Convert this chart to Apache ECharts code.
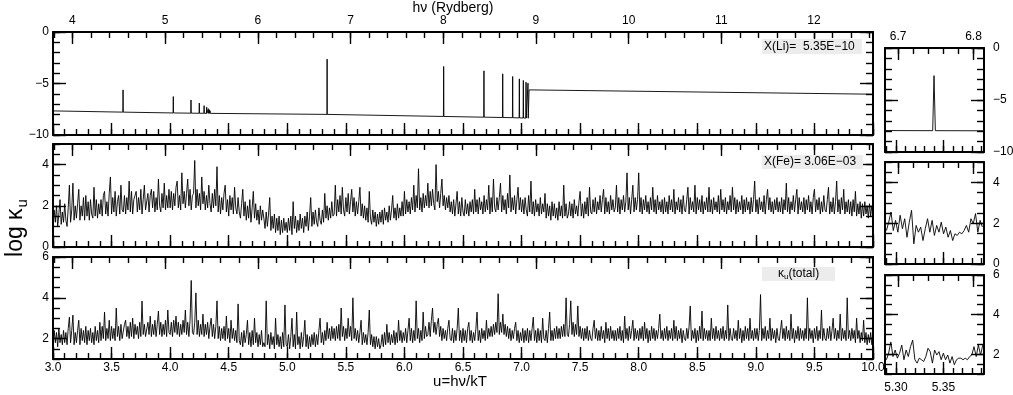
<!DOCTYPE html>
<html>
<head>
<meta charset="utf-8">
<script src="https://cdn.jsdelivr.net/npm/echarts@6/dist/echarts.min.js"></script>
<style>
html,body{margin:0;padding:0;background:#fff;}
#chart{width:1013px;height:395px;}
</style>
</head>
<body>
<div id="chart"></div>
<script>
// ---------------- DATA ----------------
const HV_PER_U = 1.2636;          // hν(Rydberg) = HV_PER_U * u
const U_START = 3.0, U_STEP = 0.01;

// Li opacity (log κ_u) : explicit [u] / [log κ] pairs (baseline + line spikes + edge)
const liU = [3.000,
  3.596,3.598,3.600, 4.025,4.027,4.029, 4.176,4.178,4.180, 4.247,4.249,4.251,
  4.288,4.290,4.292, 4.310,4.312,4.314, 4.324,4.326,4.328, 4.333,4.335,4.337,
  4.340,4.341,4.343, 4.345,4.346,4.348,
  5.339,5.340,5.341, 6.333,6.335,6.337, 6.677,6.679,6.681, 6.837,6.839,6.841,
  6.922,6.924,6.926, 6.979,6.981,6.983, 7.013,7.015,7.017, 7.036,7.038,7.040,
  7.053,7.055,7.057, 7.062,7.064, 10.000];
const liK = [-7.66,
  -7.78,-5.62,-7.78, -7.86,-6.27,-7.86, -7.88,-6.60,-7.88, -7.89,-6.90,-7.89,
  -7.89,-7.15,-7.89, -7.90,-7.30,-7.90, -7.90,-7.45,-7.90, -7.90,-7.55,-7.90,
  -7.90,-7.65,-7.90, -7.90,-7.75,-7.90,
  -8.00,-2.63,-8.00, -8.20,-3.35,-8.20, -8.27,-3.77,-8.27, -8.30,-4.06,-8.30,
  -8.32,-4.32,-8.32, -8.34,-4.55,-8.34, -8.35,-4.70,-8.35, -8.36,-4.87,-8.36,
  -8.37,-4.97,-8.37, -8.37,-5.62, -6.04];

// Fe opacity, u = 3.00 .. 10.00 step 0.01 (one row = 0.2 in u)
const feVals = [
 1.1,1.8,1.2,2.0,1.0,1.6,2.3,1.1,1.7,1.2,2.1,1.3,1.0,1.9,3.0,1.2,1.8,3.1,1.3,2.0,
 1.4,2.1,2.8,1.3,2.0,1.5,2.4,1.3,2.5,1.5,2.2,1.3,2.3,1.6,1.4,2.9,1.5,2.3,1.4,2.1,
 1.6,2.3,1.5,2.5,2.7,1.6,2.2,1.5,2.6,3.4,1.6,2.4,1.7,2.7,1.5,2.2,2.5,1.6,3.0,1.8,
 1.7,2.5,1.6,2.4,1.8,3.2,1.7,2.7,1.6,2.3,2.5,2.7,1.7,2.4,1.8,2.8,1.6,2.3,3.0,1.8,
 1.8,2.6,1.7,2.5,2.8,1.9,2.7,1.7,2.4,1.8,3.3,2.0,1.7,2.6,1.9,3.1,1.8,2.5,1.9,2.8,
 1.9,2.7,1.8,2.6,2.0,2.9,3.2,1.9,2.5,1.8,3.6,2.1,2.7,1.9,2.6,3.3,2.0,2.8,1.8,2.5,
 2.6,4.2,1.9,2.8,2.0,2.6,1.8,3.4,2.1,2.7,1.8,2.5,1.9,3.0,2.1,1.7,2.6,1.9,2.8,2.0,
 3.9,1.7,2.5,1.6,2.4,1.8,2.6,3.0,1.7,2.3,1.5,2.5,1.8,2.4,1.6,2.9,1.9,1.6,2.4,1.7,
 1.4,2.1,2.8,1.5,2.2,1.3,2.0,1.4,2.3,1.2,1.9,2.7,1.4,2.1,1.3,1.8,1.1,2.0,1.3,1.8,
 1.4,0.9,1.7,1.0,1.6,2.4,0.8,1.5,0.9,1.6,0.7,1.4,0.8,1.5,0.6,1.3,0.7,1.4,0.8,1.2,
 0.7,1.4,0.8,1.5,0.6,2.2,0.9,1.5,0.7,1.3,0.8,1.6,0.9,1.4,0.7,1.5,1.0,1.7,0.8,1.5,
 2.4,1.0,1.7,1.1,1.8,1.2,1.0,1.9,1.3,1.1,1.8,1.2,2.6,1.4,2.0,1.3,1.9,1.4,2.2,1.5,
 1.6,3.0,1.5,2.3,1.7,2.5,1.6,2.9,1.8,1.5,2.4,1.7,2.6,1.6,2.2,2.8,1.7,2.4,1.5,2.2,
 1.6,2.2,2.9,1.5,2.1,1.4,2.0,1.3,1.9,1.2,2.7,1.4,1.1,1.8,1.2,1.7,1.0,1.6,1.1,1.7,
 1.2,1.8,1.1,1.9,1.3,1.7,1.2,2.0,1.3,1.8,2.5,1.4,1.9,1.3,2.1,1.4,1.9,1.5,2.2,1.5,
 2.7,1.6,2.3,1.7,2.2,1.6,2.4,1.8,3.0,1.7,2.5,1.9,3.8,1.8,2.4,1.7,2.6,1.9,2.5,2.0,
 3.1,1.9,2.7,2.0,2.8,2.1,1.8,4.0,2.2,2.7,1.9,2.6,3.3,2.0,2.5,1.8,2.4,1.9,2.5,1.7,
 2.2,1.6,2.3,1.5,2.1,2.7,1.6,2.2,1.5,2.4,1.7,1.5,2.3,1.6,2.1,1.5,2.2,1.7,2.3,1.6,
 2.8,1.7,2.3,1.6,2.4,1.8,2.2,1.6,2.5,1.7,2.3,1.8,3.0,1.6,2.4,1.7,3.3,1.9,1.7,2.4,
 1.8,2.4,3.1,1.7,2.5,1.8,2.3,1.6,2.6,1.9,3.5,1.7,2.4,1.8,2.5,1.6,2.3,2.9,1.8,2.4,
 1.7,2.3,1.6,2.4,1.8,1.5,2.5,1.7,3.2,1.6,2.2,1.5,2.3,1.7,2.1,1.5,2.4,1.6,2.1,1.7,
 2.6,1.4,2.1,1.5,2.0,1.3,2.2,1.5,2.1,1.4,1.9,1.3,2.2,1.5,2.0,1.4,3.0,1.5,2.1,1.4,
 1.6,2.2,1.5,2.1,1.4,2.3,1.6,2.0,1.5,2.2,2.7,1.5,2.1,1.4,2.2,1.6,2.4,1.5,2.9,1.7,
 1.6,2.3,1.7,2.4,1.6,2.2,1.8,2.5,1.7,2.3,2.8,1.6,2.4,1.7,2.2,1.6,2.5,1.8,2.3,1.7,
 1.9,3.0,1.7,2.4,1.6,2.3,1.8,2.5,1.7,2.2,3.6,1.8,2.4,1.6,2.3,3.0,1.7,2.4,1.8,2.3,
 3.6,1.7,2.4,1.6,2.3,1.8,2.5,1.7,2.2,1.6,2.4,1.8,2.9,1.7,2.3,1.6,2.5,1.8,2.2,1.7,
 2.3,1.6,2.4,1.7,2.2,1.6,2.5,1.8,2.3,1.7,2.8,1.6,2.2,1.8,2.4,1.7,2.3,1.6,2.5,1.8,
 1.7,2.3,2.9,1.6,2.4,1.8,2.2,1.7,3.0,1.6,2.4,1.8,2.3,1.7,2.5,1.6,2.2,1.8,2.4,1.7,
 2.9,1.7,2.3,1.6,2.4,1.8,2.2,1.7,2.5,1.6,2.8,1.8,2.3,1.7,2.4,1.6,2.2,1.8,2.5,1.7,
 2.9,1.8,2.4,1.6,2.3,1.7,2.2,1.8,2.5,1.6,2.3,1.7,2.4,1.8,2.2,1.6,2.4,1.7,2.3,3.2,
 1.7,2.3,1.6,2.4,1.8,2.2,1.7,2.5,1.6,2.3,2.8,1.8,2.4,1.7,2.2,1.6,2.3,1.8,2.4,1.7,
 2.2,1.7,2.4,1.6,2.3,1.8,3.1,1.7,2.4,1.6,2.2,1.8,2.5,1.7,2.3,2.8,1.6,2.4,1.8,2.2,
 1.7,2.4,1.6,2.3,1.8,2.5,1.7,2.2,1.6,2.4,2.8,1.7,2.3,1.8,2.4,1.6,2.2,1.7,2.5,1.8,
 1.7,2.3,2.9,1.6,2.2,1.7,2.4,1.6,2.2,3.2,1.7,2.3,1.6,2.4,1.8,2.8,1.6,2.2,1.7,2.3,
 1.6,2.2,1.5,2.3,1.7,2.7,1.5,2.1,1.6,2.2,1.4,2.1,1.5,2.2,1.6,2.0,1.4,2.1,1.5,2.0,
 1.6];

// total opacity, u = 3.00 .. 10.00 step 0.01 (one row = 0.2 in u)
const totVals = [
 1.7,2.4,1.8,2.3,1.6,2.5,1.8,2.2,1.7,2.4,1.8,2.3,1.7,2.5,3.05,1.8,2.4,3.15,1.7,2.3,
 1.8,2.4,2.9,1.7,2.5,1.9,2.4,1.8,2.6,1.7,2.4,1.9,2.5,1.8,2.3,1.7,2.6,1.9,2.4,1.8,
 2.8,1.9,2.6,2.0,3.3,1.9,2.5,2.0,2.9,1.9,2.6,2.0,2.5,1.9,3.5,2.1,2.6,1.9,2.7,2.0,
 2.0,2.7,2.9,2.1,2.6,2.0,2.8,2.1,3.0,2.0,2.7,2.2,2.6,2.0,2.8,2.1,3.84,2.2,2.7,2.1,
 2.1,2.8,2.2,3.1,2.1,2.7,2.2,2.9,2.1,2.7,3.35,2.2,2.8,2.1,2.7,2.2,2.9,2.1,3.4,2.3,
 2.2,2.8,2.1,2.9,2.3,3.1,2.2,2.8,2.1,2.7,2.2,2.9,2.3,3.4,2.2,2.8,2.1,2.9,4.85,2.3,
 2.2,2.8,4.24,2.2,2.9,2.1,2.7,2.2,3.2,2.1,2.7,2.2,2.8,2.0,2.6,3.0,2.1,2.7,2.0,2.6,
 3.85,2.0,2.6,1.9,2.5,2.0,2.6,1.9,3.1,2.0,2.5,1.8,2.9,2.0,2.5,1.9,2.4,1.8,3.7,1.9,
 1.7,2.3,1.6,2.4,1.8,2.2,2.9,1.7,2.3,1.6,2.4,1.7,3.0,1.8,2.3,1.6,2.2,1.7,2.4,1.6,
 1.8,1.6,3.85,1.7,2.2,1.5,2.3,1.7,2.1,1.5,3.0,1.7,2.2,1.6,2.1,1.5,2.3,1.6,3.65,1.7,
 1.6,2.2,1.5,2.1,3.0,1.6,2.2,1.5,3.3,1.7,2.1,1.5,2.3,1.6,2.1,2.9,1.6,2.2,1.5,2.1,
 1.6,2.2,1.7,2.3,1.6,2.2,1.7,2.4,3.0,1.8,2.3,1.7,2.4,1.9,2.8,2.0,2.5,1.9,2.6,2.0,
 2.5,1.9,2.6,2.0,2.7,1.9,3.5,2.1,2.6,1.9,2.5,2.0,3.0,2.1,2.6,1.9,4.0,2.0,2.5,1.9,
 2.4,1.8,2.3,2.9,1.7,2.3,1.8,2.2,1.7,2.3,3.4,1.7,2.2,1.6,2.1,1.5,2.1,1.6,2.0,1.5,
 1.7,2.2,1.6,2.3,1.7,2.7,1.8,2.3,1.7,2.2,1.8,2.4,1.7,2.3,1.8,2.9,1.9,2.4,1.8,2.3,
 1.9,2.5,1.8,2.4,3.0,1.9,2.5,1.8,2.4,1.9,3.85,2.0,2.5,1.8,2.4,1.9,3.3,2.0,2.6,2.1,
 2.2,2.8,2.1,2.9,3.5,2.3,2.8,2.2,2.7,3.0,2.1,2.6,1.9,2.5,2.0,2.4,1.9,2.5,2.9,2.0,
 1.9,2.5,1.8,2.4,1.9,2.5,3.5,1.9,2.4,1.8,2.5,1.9,2.4,1.8,2.5,2.8,1.9,2.4,1.8,2.3,
 1.9,2.5,3.3,1.9,2.4,1.8,2.5,2.0,2.4,1.9,2.9,2.0,2.5,2.1,2.6,2.1,2.7,2.2,2.8,2.3,
 4.2,2.2,2.8,2.3,3.2,2.2,2.7,2.1,2.6,2.0,2.5,1.9,2.4,2.0,2.5,2.8,1.9,2.4,1.8,2.3,
 1.9,2.5,1.8,2.4,1.9,2.5,1.8,2.4,1.9,2.5,3.05,1.9,2.4,1.8,2.5,1.9,2.4,1.8,3.0,2.0,
 1.9,2.4,1.8,2.5,3.3,1.9,2.4,1.9,2.5,2.0,2.6,2.0,2.5,2.0,2.6,2.1,2.7,2.1,4.0,2.2,
 2.1,2.7,3.85,2.2,2.8,2.1,2.7,2.2,3.6,2.1,2.6,2.0,2.5,1.9,2.5,2.0,2.6,1.9,2.4,2.0,
 1.9,2.5,2.9,2.0,2.5,1.9,2.4,1.9,2.6,2.0,2.4,1.8,2.8,2.0,2.5,1.9,2.6,2.0,2.4,1.9,
 2.4,1.9,2.5,2.0,2.6,1.9,2.4,1.8,3.1,2.0,2.5,1.9,2.6,2.0,2.4,2.9,1.9,2.5,2.0,2.4,
 1.9,2.5,2.0,2.6,1.9,2.8,2.0,2.5,1.8,2.4,1.9,2.6,2.0,2.5,1.9,2.4,2.0,2.5,3.2,2.0,
 2.4,1.9,2.5,2.0,2.6,1.9,2.4,2.0,2.5,1.9,2.9,2.0,2.6,1.9,2.4,2.0,2.5,1.8,2.4,2.0,
 1.9,2.5,2.0,2.6,3.6,1.9,2.4,2.0,2.5,1.8,2.4,1.9,2.6,2.0,3.35,1.9,2.5,2.0,2.4,1.9,
 2.4,1.9,3.0,2.0,2.5,1.9,2.6,2.0,2.4,1.9,2.5,2.0,2.6,1.9,2.4,2.0,3.65,1.9,2.5,2.0,
 1.9,2.5,2.0,2.4,1.9,2.9,2.0,2.5,1.8,2.4,1.9,2.6,2.0,2.5,1.9,3.0,2.0,2.4,1.9,2.5,
 2.0,2.5,1.9,2.4,4.16,1.9,2.5,2.0,2.6,1.9,2.4,2.0,3.0,1.9,2.5,2.0,2.4,1.8,2.5,2.0,
 1.9,2.4,2.9,2.0,2.5,1.9,2.6,2.0,2.4,1.9,3.2,2.0,2.5,1.8,2.4,2.0,2.6,1.9,2.5,2.0,
 2.4,1.9,2.5,2.0,4.0,1.9,2.5,2.0,2.4,1.8,2.5,2.0,2.6,1.9,2.4,2.0,3.4,1.9,2.5,2.0,
 1.9,2.5,2.0,2.6,1.9,2.4,3.0,2.0,2.5,1.9,2.4,2.0,3.2,1.9,2.5,2.0,2.4,1.9,4.0,2.0,
 2.4,1.9,2.5,2.0,2.4,1.8,3.0,2.0,2.4,1.8,2.3,1.9,2.9,1.8,2.3,1.7,2.2,1.8,2.3,1.7,
 1.9];

// insets (zoom around u = 5.29 .. 5.39)
const INSET_U0 = 5.29;
const insetLiU = [5.2885, 5.3386, 5.3400, 5.3414, 5.3925];
const insetLiK = [-7.94, -7.95, -2.66, -7.95, -7.96];
const INSET_FE_STEP = 0.0024;
const insetFeVals = [1.64,2.05,2.55,1.64,2.14,1.56,2.39,1.73,2.22,1.31,2.05,2.63,0.99,1.89,1.56,1.81,1.15,1.73,2.22,1.56,2.14,1.40,1.89,1.56,2.05,1.48,1.81,1.31,1.64,1.15,1.48,1.40,1.56,1.48,1.64,1.89,1.56,2.22,1.97,2.47,1.56,2.14,1.81];
const INSET_TOT_STEP = 0.0023;
const insetTotVals = [1.72,2.05,2.62,1.88,2.21,1.80,2.05,2.46,1.72,2.21,1.88,2.38,2.71,1.72,1.55,1.80,1.72,1.63,1.88,2.30,2.13,1.55,2.21,1.96,2.13,1.72,2.05,1.72,1.96,1.55,1.88,1.47,1.72,1.80,1.80,1.72,1.80,1.72,1.88,1.96,2.38,1.88,2.46,1.96,2.46];

// tick labels
const uTickLabels = [3.0,3.5,4.0,4.5,5.0,5.5,6.0,6.5,7.0,7.5,8.0,8.5,9.0,9.5,10.0];
const hvTickLabels = [4,5,6,7,8,9,10,11,12];
const insetUTickLabels = [5.30,5.35];
const insetHvTickLabels = [6.7,6.8];
const liYTicks = [-10,-5,0];
const feYTicks = [0,2,4];
const totYTicks = [2,4,6];
const liYMajorTicks = [-5];
const annLi = 'X(Li)=  5.35E\u221210';
const annFe = 'X(Fe)= 3.06E\u221203';

// ---------------- BUILD ----------------
const FONT = 'Liberation Sans, Arial, Helvetica, sans-serif';
function range(a, b, s) { const out = []; const n = Math.round((b - a) / s); for (let i = 0; i <= n; i++) out.push(+(a + i * s).toFixed(6)); return out; }
function minus(s) { return String(s).replace('-', '\u2212'); }

const grids = [
  {left: 53, top: 32, width: 820, height: 103},
  {left: 53, top: 144, width: 820, height: 103},
  {left: 53, top: 257, width: 820, height: 102},
  {left: 885, top: 48, width: 99, height: 104},
  {left: 885, top: 162, width: 99, height: 102},
  {left: 885, top: 275, width: 99, height: 99}
].map(g => Object.assign({outerBoundsMode: 'none', containLabel: false}, g));

const xAxes = [], yAxes = [];
function mkAxis(gi, pos, min, max, ticks, len, lineShow, labels, fmt, margin) {
  return {
    type: 'value', gridIndex: gi, position: pos, min: min, max: max,
    axisLine: {show: lineShow, onZero: false, lineStyle: {color: '#000', width: 2}},
    axisTick: {show: true, inside: true, length: len, customValues: ticks, lineStyle: {color: '#000', width: 1.4}},
    axisLabel: labels ? {show: true, customValues: labels, formatter: fmt, margin: margin, color: '#000', fontSize: 12, fontFamily: FONT} : {show: false},
    splitLine: {show: false}, minorTick: {show: false}
  };
}
function addX(gi, pos, min, max, major, minor, labels, fmt, margin) {
  xAxes.push(mkAxis(gi, pos, min, max, minor, 6, false, null));
  xAxes.push(mkAxis(gi, pos, min, max, major, 12, true, labels, fmt, margin));
  return xAxes.length - 1;
}
function addY(gi, pos, min, max, major, minor, labels, fmt, margin) {
  yAxes.push(mkAxis(gi, pos, min, max, minor, 7, false, null));
  yAxes.push(mkAxis(gi, pos, min, max, major, 13, true, labels, fmt, margin));
  return yAxes.length - 1;
}
const fU = v => v.toFixed(1);
const fU2 = v => v.toFixed(2);
const fHv = v => String(Math.round(v));
const fHv1 = v => v.toFixed(1);
const fY = v => minus(Math.round(v));

const uMinor = range(3.0, 10.0, 0.1);
const hvMinor = range(3.8, 12.6, 0.2);
const hvMin = 3.0 * HV_PER_U, hvMax = 10.0 * HV_PER_U;
const iuMin = 5.2885, iuMax = 5.3925;
const iuMinor = range(5.29, 5.39, 0.01);
const ihvMinor = range(6.70, 6.80, 0.02);

const mainY = [
  {min: -10, max: 0, major: liYMajorTicks.concat([-10, 0]), minor: range(-10, 0, 1), labels: liYTicks},
  {min: 0, max: 5, major: feYTicks, minor: range(0, 5, 0.5), labels: feYTicks},
  {min: 1, max: 6, major: totYTicks, minor: range(1, 6, 0.5), labels: totYTicks}
];
const panelX = [], panelY = [], insetX = [], insetY = [];
for (let p = 0; p < 3; p++) {
  panelX.push(addX(p, 'bottom', 3.0, 10.0, uTickLabels, uMinor, p === 2 ? uTickLabels : null, fU, 3));
  addX(p, 'top', hvMin, hvMax, hvTickLabels, hvMinor, p === 0 ? hvTickLabels : null, fHv, 5);
  const m = mainY[p];
  panelY.push(addY(p, 'left', m.min, m.max, m.major, m.minor, m.labels, fY, 4));
  addY(p, 'right', m.min, m.max, m.major, m.minor, null);
}
for (let p = 0; p < 3; p++) {
  const gi = p + 3;
  insetX.push(addX(gi, 'bottom', iuMin, iuMax, insetUTickLabels, iuMinor, p === 2 ? insetUTickLabels : null, fU2, 8));
  addX(gi, 'top', iuMin * HV_PER_U, iuMax * HV_PER_U, insetHvTickLabels, ihvMinor, p === 0 ? insetHvTickLabels : null, fHv1, 5);
  const m = mainY[p];
  insetY.push(addY(gi, 'left', m.min, m.max, m.major, m.minor, null));
  const yi = addY(gi, 'right', m.min, m.max, m.major, m.minor, m.labels, fY, 9);
  yAxes[yi].axisLabel.align = 'left';
}

function gridSeries(vals, u0, step) { return vals.map((v, i) => [+(u0 + i * step).toFixed(5), v]); }
const lineStyle = {color: '#000', width: 0.9};
function line(data, xi, yi) {
  return {type: 'line', xAxisIndex: xi, yAxisIndex: yi, data: data, showSymbol: false, symbol: 'none',
    lineStyle: lineStyle, silent: true, clip: true, sampling: null, z: 1};
}
const series = [
  line(liU.map((u, i) => [u, liK[i]]), panelX[0], panelY[0]),
  line(gridSeries(feVals, U_START, U_STEP), panelX[1], panelY[1]),
  line(gridSeries(totVals, U_START, U_STEP), panelX[2], panelY[2]),
  line(insetLiU.map((u, i) => [u, insetLiK[i]]), insetX[0], insetY[0]),
  line(gridSeries(insetFeVals, INSET_U0, INSET_FE_STEP), insetX[1], insetY[1]),
  line(gridSeries(insetTotVals, INSET_U0, INSET_TOT_STEP), insetX[2], insetY[2])
];

function txt(x, y, text, size, extra) {
  return {type: 'text', x: x, y: y, silent: true, z: 10,
    style: Object.assign({text: text, fontSize: size, fontFamily: FONT, fill: '#000', align: 'center', verticalAlign: 'middle'}, extra || {})};
}
const graphic = [
  txt(453, 8, 'h\u03bd (Rydberg)', 14),
  txt(460, 382, 'u=h\u03bd/kT', 15),
  Object.assign(txt(16, 228, '{a|log \u03ba}{s|u}', 22, {
    rich: {a: {fontSize: 23, lineHeight: 28, fontFamily: FONT}, s: {fontSize: 15, lineHeight: 15, padding: [13, 0, 0, 1], fontFamily: FONT}}
  }), {rotation: Math.PI / 2}),
  txt(762, 39, annLi, 12, {align: 'left', verticalAlign: 'top', backgroundColor: '#ececec', padding: [2, 7, 1, 2]}),
  txt(762, 155, annFe, 12, {align: 'left', verticalAlign: 'top', backgroundColor: '#ececec', padding: [1, 7, 1, 2]}),
  txt(762, 267, '{a|\u03ba}{s|u}{a|(total)}', 12, {align: 'left', verticalAlign: 'top', backgroundColor: '#ececec', padding: [0, 16, 0, 16],
    rich: {a: {fontSize: 12, lineHeight: 14, fontFamily: FONT}, s: {fontSize: 8, lineHeight: 8, padding: [6, 0, 0, 0], fontFamily: FONT}}})
];

const chart = echarts.init(document.getElementById('chart'), null, {renderer: 'canvas'});
chart.setOption({
  animation: false,
  backgroundColor: '#fff',
  textStyle: {fontFamily: FONT},
  grid: grids,
  xAxis: xAxes,
  yAxis: yAxes,
  series: series,
  graphic: graphic
});
</script>
</body>
</html>
